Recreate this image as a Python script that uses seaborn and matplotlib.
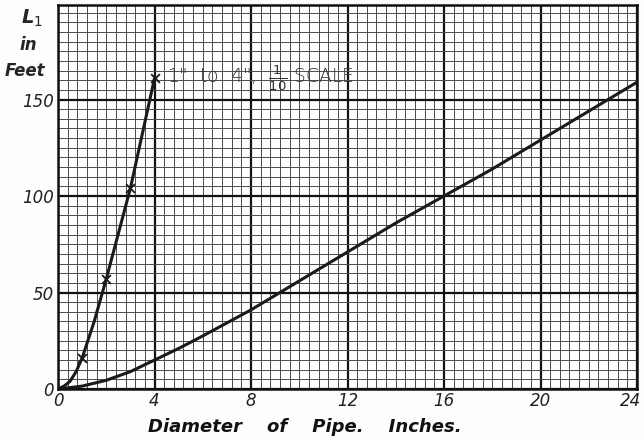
import numpy as np
import pandas as pd
import matplotlib
matplotlib.use('Agg')
import matplotlib.pyplot as plt
import matplotlib.transforms as mtransforms
import seaborn as sns
from matplotlib.ticker import MultipleLocator

# curve read at 1/10 scale for the small pipes (1" to 4")
small_dia = [0, 0.25, 0.5, 0.75, 1, 1.5, 2, 3, 4]
small_len = [0, 1.5, 4, 9, 16, 35, 57, 104, 161]
mark_dia = [1, 2, 3, 4]
mark_len = [16, 57, 104, 161]

# full scale curve
pipe_dia = [0, 1, 2, 3, 4, 5, 6, 8, 10, 12, 14, 16, 18, 20, 22, 24]
pipe_len = [0, 1.5, 4.5, 9, 15, 21, 27.5, 41, 56, 71, 86, 100, 114, 129, 144, 159]

x_ticks = [0, 4, 8, 12, 16, 20, 24]
y_ticks = [0, 50, 100, 150]

sns.set_style("white")
plt.rcParams['font.family'] = ['DejaVu Sans']

fig = plt.figure(figsize=(6.44, 4.41), dpi=100, facecolor='#fdfdfd')
ax = fig.add_axes([58/644, 1 - 389/441, (637-58)/644, (389-5)/441])
ax.set_facecolor('#fdfdfd')

ax.set_xlim(0, 24)
ax.set_ylim(0, 199)
ax.xaxis.set_major_locator(MultipleLocator(4))
ax.xaxis.set_minor_locator(MultipleLocator(0.4))
ax.yaxis.set_major_locator(MultipleLocator(50))
ax.yaxis.set_minor_locator(MultipleLocator(5))
ax.grid(which='minor', color='#4a4a4a', linewidth=0.7)
ax.grid(which='major', color='#111111', linewidth=1.6)
ax.set_axisbelow(True)
for s in ax.spines.values():
    s.set_color('#111111')
    s.set_linewidth(1.8)

ax.tick_params(which='both', length=0)
ax.tick_params(axis='x', pad=2)
ax.tick_params(axis='y', pad=3)
ax.set_xticks(x_ticks)
ax.set_yticks(y_ticks)
ax.set_xticklabels([str(v) for v in x_ticks], fontsize=12, style='italic', color='#222222')
ax.set_yticklabels([str(v) for v in y_ticks], fontsize=12, style='italic', color='#222222')

# last tick label sits at the paper edge; nudge it in so it is not cut
last = ax.get_xticklabels()[-1]
last.set_transform(last.get_transform() +
                   mtransforms.ScaledTranslation(-6/100, 0, fig.dpi_scale_trans))

df_small = pd.DataFrame({'d': small_dia, 'L': small_len})
df_pipe = pd.DataFrame({'d': pipe_dia, 'L': pipe_len})
sns.lineplot(data=df_small, x='d', y='L', ax=ax, color='#1a1a1a', linewidth=2.2)
sns.lineplot(data=df_pipe, x='d', y='L', ax=ax, color='#1a1a1a', linewidth=2.2)
sns.scatterplot(x=mark_dia, y=mark_len, ax=ax, marker='x', s=40, color='#1a1a1a',
                linewidth=1.3, zorder=5)

ax.set_xlabel('')
ax.set_ylabel('')
fig.text(148/644, 1 - 427/441, 'Diameter    of    Pipe.    Inches.', fontsize=13,
         fontweight='bold', style='italic', color='#111111', ha='left', va='center')

ax.text(4.5, 161, '1"  to  4",  $\\frac{1}{10}$ SCALE', fontsize=13.5, color='#333333',
        va='center', ha='left', fontweight='light')

fig.text(32/644, 1 - 18/441, 'L$_1$', fontsize=14, fontweight='bold', style='italic',
         ha='center', va='center')
fig.text(28/644, 1 - 45/441, 'in', fontsize=12, fontweight='bold', style='italic',
         ha='center', va='center')
fig.text(25/644, 1 - 71/441, 'Feet', fontsize=12, fontweight='bold', style='italic',
         ha='center', va='center')

fig.savefig('out.png', dpi=100, facecolor=fig.get_facecolor())
